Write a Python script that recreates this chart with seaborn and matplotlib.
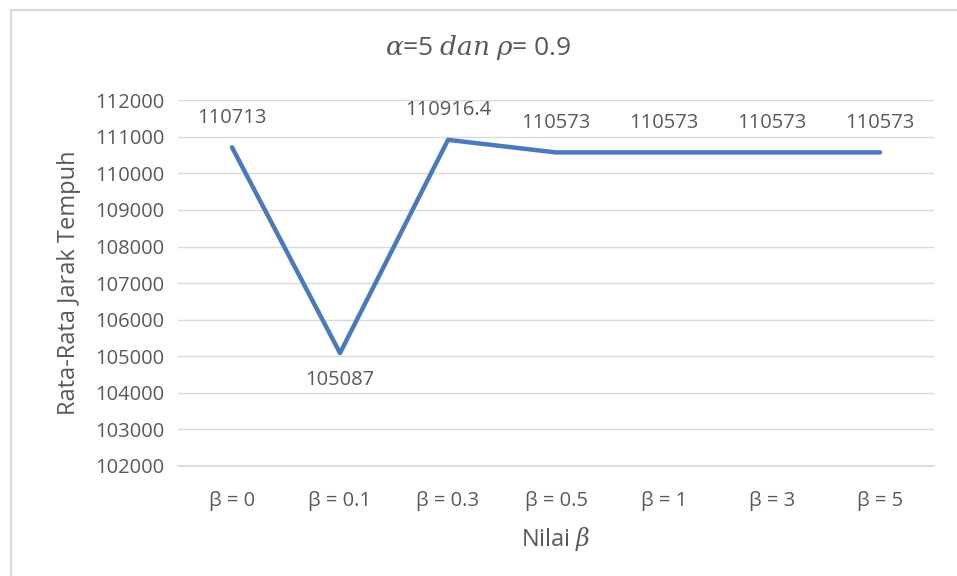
import matplotlib
matplotlib.use("Agg")
import matplotlib.pyplot as plt
import seaborn as sns
import pandas as pd

# data
beta_labels = ['β = 0', 'β = 0.1', 'β = 0.3', 'β = 0.5', 'β = 1', 'β = 3', 'β = 5']
jarak = [110713, 105087, 110916.4, 110573, 110573, 110573, 110573]
point_labels = ['110713', '105087', '110916.4', '110573', '110573', '110573', '110573']

sns.set_theme(style='white')
plt.rcParams['font.family'] = ['Open Sans', 'DejaVu Sans']
plt.rcParams['mathtext.fontset'] = 'dejavuserif'

TXT = '#595959'
GRID = '#d9d9d9'
LINE = '#4a7abc'

df = pd.DataFrame({'beta': beta_labels, 'jarak': jarak})

fig = plt.figure(figsize=(9.57, 5.76), dpi=100)
ax = fig.add_axes([0.186, 0.191, 0.790, 0.635])
sns.lineplot(data=df, x='beta', y='jarak', sort=False, color=LINE, linewidth=3.2, ax=ax)

ax.set_xlim(-0.5, len(beta_labels) - 0.5)
ax.set_ylim(102000, 112000)
ax.set_yticks(range(102000, 112001, 1000))
ax.yaxis.grid(True, color=GRID, linewidth=1)
for s in ['top', 'right', 'left']:
    ax.spines[s].set_visible(False)
ax.spines['bottom'].set_color(GRID)
ax.tick_params(axis='both', colors=TXT, labelsize=14.5, length=0)
ax.tick_params(axis='x', pad=18)
ax.tick_params(axis='y', pad=10)

for i, (v, lab) in enumerate(zip(jarak, point_labels)):
    below = i == 1
    ax.annotate(lab, (i, v), xytext=(0, -12 if below else 14), textcoords='offset points',
                ha='center', va='top' if below else 'bottom', fontsize=14.5, color=TXT)

ax.set_xlabel(r'Nilai $\beta$', fontsize=17, color=TXT, labelpad=10)
ax.set_ylabel('Rata-Rata Jarak Tempuh', fontsize=17, color=TXT, labelpad=10)
fig.text(0.5, 0.917, r'$\alpha$=5 $dan$ $\rho$= 0.9', ha='center', va='center', fontsize=19, color=TXT)

# chart border (top and left edges visible)
fig.add_artist(plt.Line2D([0.0115, 1.0], [0.9825, 0.9825], color=GRID, linewidth=1.5, transform=fig.transFigure))
fig.add_artist(plt.Line2D([0.0115, 0.0115], [0.0, 0.9825], color=GRID, linewidth=1.5, transform=fig.transFigure))

fig.savefig('out.png', dpi=100)
